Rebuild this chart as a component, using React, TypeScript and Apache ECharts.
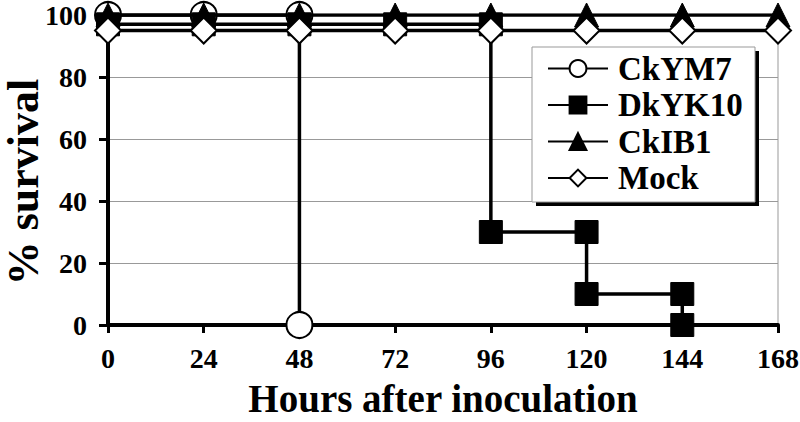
import React, { useEffect, useRef } from "react";
import * as echarts from "echarts";

const hoursAll = [0, 24, 48, 72, 96, 120, 144, 168];
const ckym7X = [0, 24, 48, 48];
const ckym7Y = [100, 100, 100, 0];
const dkyk10X = [0, 24, 48, 72, 96, 96, 120, 120, 144, 144];
const dkyk10Y = [97, 97, 97, 97, 97, 30, 30, 10, 10, 0];
const ckib1Y = [100, 100, 100, 100, 100, 100, 100, 100];
const mockY = [95, 95, 95, 95, 95, 95, 95, 95];
const seriesNames = ["CkYM7", "DkYK10", "CkIB1", "Mock"];

const FONT = "'Liberation Serif', 'Times New Roman', serif";

const pairs = (xs: number[], ys: number[]) => xs.map((x, i) => [x, ys[i]]);

export default function App() {
  const ref = useRef<HTMLDivElement>(null);
  useEffect(() => {
    const chart = echarts.init(ref.current!, null, { renderer: "svg" });
    const line = { color: "#000", width: 3.5 };
    chart.setOption({
      animation: false,
      backgroundColor: "#fff",
      grid: {
        left: 108,
        right: 22,
        top: 15,
        bottom: 97,
        show: true,
        borderColor: "#999",
        borderWidth: 1,
        outerBoundsMode: "none",
        containLabel: false,
      },
      xAxis: {
        type: "value",
        min: 0,
        max: 168,
        interval: 24,
        name: "Hours after inoculation",
        nameLocation: "middle",
        nameGap: 54,
        nameTextStyle: { fontFamily: FONT, fontWeight: "bold", fontSize: 39, color: "#000" },
        axisLine: { show: true, onZero: false, lineStyle: { color: "#000", width: 4 } },
        axisTick: { show: true, inside: false, length: 8, lineStyle: { color: "#000", width: 3 } },
        axisLabel: { fontFamily: FONT, fontWeight: "bold", fontSize: 28, color: "#000", margin: 19 },
        splitLine: { show: false },
      },
      yAxis: {
        type: "value",
        min: 0,
        max: 100,
        interval: 20,
        axisLine: { show: true, lineStyle: { color: "#000", width: 4 } },
        axisTick: { show: true, inside: false, length: 9, lineStyle: { color: "#000", width: 3 } },
        axisLabel: { fontFamily: FONT, fontWeight: "bold", fontSize: 28, color: "#000", margin: 21 },
        splitLine: { show: true, lineStyle: { color: "#999", width: 1 } },
      },
      legend: {
        show: true,
        orient: "vertical",
        left: 547,
        top: 52,
        z: 6,
        padding: 0,
        itemWidth: 60,
        itemHeight: 21,
        itemGap: 3.5,
        data: seriesNames,
        textStyle: {
          fontFamily: FONT,
          fontWeight: "bold",
          fontSize: 33,
          lineHeight: 33,
          color: "#000",
          padding: [0, 0, 0, 5],
        },
      },
      graphic: [
        { type: "rect", z: 3, shape: { x: 536, y: 51, width: 223, height: 155 }, style: { fill: "#000" } },
        {
          type: "rect",
          z: 3,
          shape: { x: 532, y: 47, width: 223, height: 155 },
          style: { fill: "#fff", stroke: "#999", lineWidth: 1 },
        },
        {
          type: "text",
          z: 3,
          x: 23,
          y: 182,
          rotation: Math.PI / 2,
          style: {
            text: "% survival",
            fontFamily: FONT,
            fontWeight: "bold",
            fontSize: 44,
            fill: "#000",
            align: "center",
            verticalAlign: "middle",
          },
        },
      ],
      series: [
        {
          name: seriesNames[0],
          type: "line",
          data: pairs(ckym7X, ckym7Y),
          symbol: "circle",
          symbolSize: 26,
          lineStyle: line,
          itemStyle: { color: "#fff", borderColor: "#000", borderWidth: 2 },
          z: 2,
        },
        {
          name: seriesNames[1],
          type: "line",
          data: pairs(dkyk10X, dkyk10Y),
          symbol: "rect",
          symbolSize: 23,
          lineStyle: line,
          itemStyle: { color: "#000", borderColor: "#000", borderWidth: 1 },
          z: 3,
        },
        {
          name: seriesNames[2],
          type: "line",
          data: pairs(hoursAll, ckib1Y),
          symbol: "triangle",
          symbolSize: 24,
          lineStyle: line,
          itemStyle: { color: "#000", borderColor: "#000", borderWidth: 1 },
          z: 4,
        },
        {
          name: seriesNames[3],
          type: "line",
          data: pairs(hoursAll, mockY),
          symbol: "diamond",
          symbolSize: 26,
          lineStyle: line,
          itemStyle: { color: "#fff", borderColor: "#000", borderWidth: 2 },
          z: 5,
        },
      ],
    });
    return () => chart.dispose();
  }, []);
  return (
    <div
      ref={ref}
      style={{ position: "absolute", left: 0, top: 0, width: 800, height: 422, background: "#fff" }}
    />
  );
}
